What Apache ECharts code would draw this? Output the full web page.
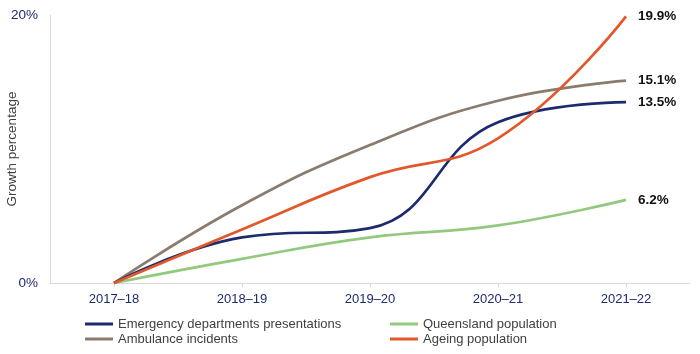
<!DOCTYPE html>
<html><head><meta charset="utf-8">
<script src="https://cdn.jsdelivr.net/npm/echarts@6/dist/echarts.min.js"></script>
<style>html,body{margin:0;padding:0;background:#fff}#c{width:700px;height:354px}</style>
</head><body><div id="c"></div>
<script>
const categories = ['2017–18','2018–19','2019–20','2020–21','2021–22'];
const emergency = [0, 3.4, 4.1, 12.0, 13.5];
const ambulance = [0, 5.8, 10.3, 13.6, 15.1];
const queensland = [0, 1.8, 3.4, 4.3, 6.2];
const ageing = [0, 4.0, 7.9, 10.8, 19.9];
const yTicks = [0, 20];
const yTitle = 'Growth percentage';

const colors = {
  'Emergency departments presentations': '#1d2a6e',
  'Ambulance incidents': '#8b7b6d',
  'Queensland population': '#92c97f',
  'Ageing population': '#e0582b'
};
function mk(name, data){
  return {
    name, type:'line', data,
    smooth:0.45, symbol:'none', lineStyle:{width:2.7, color:colors[name]}, itemStyle:{color:colors[name]},
    endLabel:{show:true, distance:12, formatter:p=>Number(p.value).toFixed(1)+'%',
      fontFamily:'Liberation Sans', fontWeight:'bold', fontSize:13.5, color:'#111'}
  };
}
const chart = echarts.init(document.getElementById('c'), null, {renderer:'canvas'});
chart.setOption({
  animation:false,
  grid:{left:50, right:10, top:15, bottom:71, containLabel:false, outerBoundsMode:'none'},
  xAxis:{type:'category', data:categories, boundaryGap:true,
    axisLine:{lineStyle:{color:'#d9d9d9', width:1}},
    axisTick:{show:true, alignWithLabel:true, length:4, lineStyle:{color:'#d9d9d9'}},
    axisLabel:{color:'#1d2a6e', fontFamily:'Liberation Sans', fontSize:13, margin:10}},
  yAxis:{type:'value', min:0, max:20, interval:20,
    name:yTitle, nameLocation:'middle', nameGap:31, nameMoveOverlap:false,
    nameTextStyle:{color:'#404040', fontFamily:'Liberation Sans', fontSize:13.5},
    axisLine:{show:true, lineStyle:{color:'#d9d9d9'}}, axisTick:{show:false},
    splitLine:{show:false},
    axisLabel:{color:'#1d2a6e', fontFamily:'Liberation Sans', fontSize:13.5, margin:12,
      formatter:v=> yTicks.includes(v) ? v+'%' : ''}},
  legend:[
    {data:['Emergency departments presentations','Ambulance incidents'], orient:'vertical', left:85, top:317,
     icon:'rect', itemWidth:28, itemHeight:3, itemGap:1, padding:0,
     textStyle:{color:'#404040', fontFamily:'Liberation Sans', fontSize:13, lineHeight:14}},
    {data:['Queensland population','Ageing population'], orient:'vertical', left:390, top:317,
     icon:'rect', itemWidth:28, itemHeight:3, itemGap:1, padding:0,
     textStyle:{color:'#404040', fontFamily:'Liberation Sans', fontSize:13, lineHeight:14}}
  ],
  series:[
    mk('Queensland population', queensland),
    mk('Ambulance incidents', ambulance),
    mk('Emergency departments presentations', emergency),
    mk('Ageing population', ageing)
  ]
});
</script></body></html>
